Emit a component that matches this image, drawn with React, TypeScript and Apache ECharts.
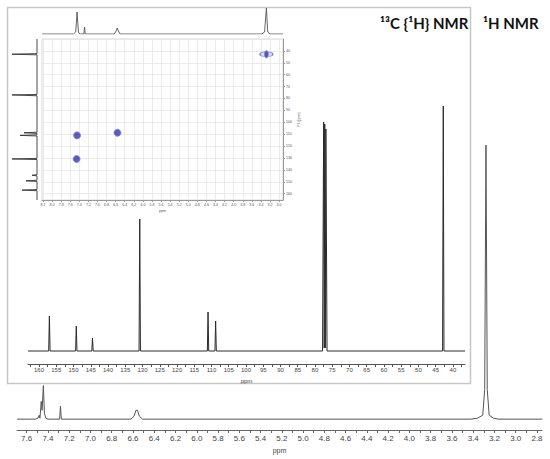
import React, { useEffect, useRef } from "react";
import * as echarts from "echarts";

// ---------- 13C {1H} spectrum: [ppm, intensity] ----------
const c13Spectrum: [number, number][] = [
  [163.2, 0], [157.2, 0], [157.0, 35], [156.8, 0],
  [149.4, 0], [149.2, 25], [149.0, 0],
  [144.7, 0], [144.5, 13], [144.3, 0],
  [131.0, 0], [130.8, 132], [130.6, 0],
  [111.2, 0], [111.0, 39], [110.8, 0],
  [109.0, 0], [108.8, 30], [108.6, 0],
  [77.8, 0], [77.48, 229], [77.32, 3], [77.16, 227], [77.0, 3], [76.84, 222], [76.5, 0],
  [43.0, 0], [42.8, 245], [42.6, 0], [36.5, 0],
];
const c13Labels = [160, 155, 150, 145, 140, 135, 130, 125, 120, 115, 110, 105, 100, 95, 90, 85, 80, 75, 70, 65, 60, 55, 50, 45, 40];
const c13Ticks = [
  162.5, 160, 157.5, 155, 152.5, 150, 147.5, 145, 142.5, 140, 137.5, 135, 132.5, 130, 127.5, 125,
  122.5, 120, 117.5, 115, 112.5, 110, 107.5, 105, 102.5, 100, 97.5, 95, 92.5, 90, 87.5, 85, 82.5,
  80, 77.5, 75, 72.5, 70, 67.5, 65, 62.5, 60, 57.5, 55, 52.5, 50, 47.5, 45, 42.5, 40, 37.5,
];

// ---------- 1H spectrum: [ppm, intensity] ----------
const h1Spectrum: [number, number][] = [
  [7.69, 0], [7.52, 0], [7.495, 1], [7.482, 4], [7.475, 1], [7.463, 18], [7.455, 9], [7.443, 34],
  [7.433, 6], [7.42, 1], [7.40, 0],
  [7.29, 0], [7.282, 13], [7.274, 0],
  [6.62, 0], [6.59, 3], [6.572, 9], [6.558, 9], [6.54, 3], [6.51, 0],
  [3.42, 0], [3.36, 1], [3.31, 4], [3.292, 30], [3.28, 278], [3.268, 30], [3.25, 4], [3.21, 1], [3.16, 0],
  [2.75, 0],
];
const h1Labels = [7.6, 7.4, 7.2, 7.0, 6.8, 6.6, 6.4, 6.2, 6.0, 5.8, 5.6, 5.4, 5.2, 5.0, 4.8, 4.6, 4.4, 4.2, 4.0, 3.8, 3.6, 3.4, 3.2, 3.0, 2.8];
const h1Ticks = [
  7.6, 7.5, 7.4, 7.3, 7.2, 7.1, 7.0, 6.9, 6.8, 6.7, 6.6, 6.5, 6.4, 6.3, 6.2, 6.1, 6.0, 5.9, 5.8, 5.7,
  5.6, 5.5, 5.4, 5.3, 5.2, 5.1, 5.0, 4.9, 4.8, 4.7, 4.6, 4.5, 4.4, 4.3, 4.2, 4.1, 4.0, 3.9, 3.8, 3.7,
  3.6, 3.5, 3.4, 3.3, 3.2, 3.1, 3.0, 2.9, 2.8,
];

// ---------- HSQC 2D ----------
const hsqcH = [7.45, 6.56, 7.46, 3.28];
const hsqcC = [111.0, 108.8, 130.8, 42.8];
const hsqcShape = ["dot", "dot", "dot", "ellipse"];
const hsqcXLabels = [8.2, 8.0, 7.8, 7.6, 7.4, 7.2, 7.0, 6.8, 6.6, 6.4, 6.2, 6.0, 5.8, 5.6, 5.4, 5.2, 5.0, 4.8, 4.6, 4.4, 4.2, 4.0, 3.8, 3.6, 3.4, 3.2, 3.0];

// top projection (1H): [ppm, intensity]
const h1Projection: [number, number][] = [
  [8.22, 0], [7.53, 0], [7.48, 2], [7.45, 22], [7.42, 2], [7.39, 0],
  [7.30, 0], [7.285, 7], [7.27, 0],
  [6.63, 0], [6.59, 3], [6.565, 6], [6.54, 3], [6.50, 0],
  [3.38, 0], [3.32, 2], [3.28, 26], [3.25, 2], [3.20, 0], [2.91, 0],
];
// left projection (13C): [ppm, intensity]
const c13Projection: [number, number][] = [
  [30, 0], [42.3, 0], [42.8, 25], [43.3, 0],
  [76.6, 0], [77.0, 25], [77.3, 25], [77.7, 0],
  [108.3, 0], [108.8, 13], [109.3, 0],
  [110.5, 0], [111.0, 17], [111.5, 0],
  [130.3, 0], [130.8, 25], [131.3, 0],
  [144.0, 0], [144.5, 5], [145.0, 0],
  [148.7, 0], [149.2, 11], [149.7, 0],
  [156.5, 0], [157.0, 15], [157.5, 0], [165.3, 0],
];

const LABEL_FONT = "Liberation Sans, Arial, sans-serif";
const TITLE_FONT = "Lato, 'Open Sans', sans-serif";

export default function App() {
  const ref = useRef<HTMLDivElement>(null);

  useEffect(() => {
    if (!ref.current) return;
    const chart = echarts.init(ref.current, undefined, { renderer: "svg" });

    const hidden = { show: false };
    const peaks = hsqcH.map((h, i) => [h, hsqcC[i]]);
    const ellipsePeaks = peaks.filter((_, i) => hsqcShape[i] === "ellipse");

    const option: any = {
      animation: false,
      backgroundColor: "#ffffff",
      grid: [
        { left: 28, top: 106, width: 437, height: 258 }, // 13C
        { left: 17, top: 145, width: 525, height: 289 }, // 1H
        { left: 42, top: 39, width: 241, height: 161, show: true, borderColor: "#d8d8d8", borderWidth: 1 }, // 2D
        { left: 42, top: 8, width: 241, height: 26 }, // top projection
        { left: 11, top: 39, width: 26, height: 161 }, // left projection
      ],
      xAxis: [
        {
          gridIndex: 0, type: "value", inverse: true, min: 36.5, max: 163.2,
          axisLine: { show: true, onZero: false, lineStyle: { color: "#555", width: 1 } },
          axisTick: { show: true, customValues: c13Ticks, length: 3, lineStyle: { color: "#555" } },
          axisLabel: { customValues: c13Labels, fontSize: 6, color: "#444", margin: 3, fontFamily: LABEL_FONT },
          splitLine: { show: false },
          name: "ppm", nameLocation: "middle", nameGap: 12,
          nameTextStyle: { fontSize: 6, color: "#444", fontFamily: LABEL_FONT },
        },
        {
          gridIndex: 1, type: "value", inverse: true, min: 2.753, max: 7.691,
          axisLine: { show: true, onZero: false, lineStyle: { color: "#666", width: 1 } },
          axisTick: { show: true, customValues: h1Ticks, length: 3, lineStyle: { color: "#666" } },
          axisLabel: {
            customValues: h1Labels, fontSize: 8, color: "#444", margin: 4, fontFamily: LABEL_FONT,
            formatter: (v: number) => v.toFixed(1),
          },
          splitLine: { show: false },
          name: "ppm", nameLocation: "middle", nameGap: 17,
          nameTextStyle: { fontSize: 7, color: "#444", fontFamily: LABEL_FONT },
        },
        {
          gridIndex: 2, type: "value", inverse: true, min: 2.914, max: 8.222,
          axisLine: { show: true, onZero: false, lineStyle: { color: "#999", width: 1 } },
          axisTick: { show: true, customValues: hsqcXLabels, length: 2, lineStyle: { color: "#999" } },
          axisLabel: {
            customValues: hsqcXLabels, fontSize: 3.6, color: "#555", margin: 3, fontFamily: LABEL_FONT,
            formatter: (v: number) => v.toFixed(1),
          },
          splitLine: { show: true, lineStyle: { color: "#e6e6e6", width: 0.8 } },
          name: "ppm", nameLocation: "middle", nameGap: 9,
          nameTextStyle: { fontSize: 3.6, color: "#555", fontFamily: LABEL_FONT },
        },
        { gridIndex: 3, type: "value", inverse: true, min: 2.914, max: 8.222, ...hidden },
        { gridIndex: 4, type: "value", inverse: true, min: 0, max: 26, ...hidden },
      ],
      yAxis: [
        { gridIndex: 0, type: "value", min: -13, max: 245, ...hidden },
        { gridIndex: 1, type: "value", min: -11, max: 278, ...hidden },
        {
          gridIndex: 2, type: "value", inverse: true, min: 30, max: 165.3, interval: 10, position: "right",
          axisLine: { show: true, onZero: false, lineStyle: { color: "#999", width: 1 } },
          axisTick: { show: true, length: 2, lineStyle: { color: "#999" } },
          axisLabel: { showMinLabel: false, showMaxLabel: false, fontSize: 3.6, color: "#555", margin: 3, fontFamily: LABEL_FONT },
          splitLine: { show: true, lineStyle: { color: "#e6e6e6", width: 0.8 } },
          name: "F1 (ppm)", nameLocation: "middle", nameGap: 14, nameRotate: 90,
          nameTextStyle: { fontSize: 3.6, color: "#555", fontFamily: LABEL_FONT },
        },
        { gridIndex: 3, type: "value", min: 0, max: 26, ...hidden },
        { gridIndex: 4, type: "value", inverse: true, min: 30, max: 165.3, ...hidden },
      ],
      series: [
        {
          type: "line", xAxisIndex: 0, yAxisIndex: 0, data: c13Spectrum, symbol: "none", silent: true,
          lineStyle: { color: "#2a2a2a", width: 1 },
        },
        {
          type: "line", xAxisIndex: 1, yAxisIndex: 1, data: h1Spectrum, symbol: "none", silent: true,
          lineStyle: { color: "#555", width: 1 },
        },
        {
          type: "line", xAxisIndex: 3, yAxisIndex: 3, data: h1Projection, symbol: "none", silent: true,
          lineStyle: { color: "#555", width: 0.9 },
        },
        {
          type: "line", xAxisIndex: 4, yAxisIndex: 4, data: c13Projection.map(([p, v]) => [v, p]),
          symbol: "none", silent: true, lineStyle: { color: "#333", width: 0.9 },
        },
        {
          type: "scatter", xAxisIndex: 2, yAxisIndex: 2, data: ellipsePeaks, silent: true,
          symbol: "circle", symbolSize: [13, 5],
          itemStyle: { color: "#d2d2f4", borderColor: "#5c5cd0", borderWidth: 0.8 },
        },
        {
          type: "scatter", xAxisIndex: 2, yAxisIndex: 2, data: peaks, silent: true,
          symbol: "circle",
          symbolSize: (_v: any, p: any) => (hsqcShape[p.dataIndex] === "ellipse" ? [4, 7] : 7),
          itemStyle: { color: "#3434a8", borderColor: "#8282dc", borderWidth: 1 },
        },
      ],
      graphic: [
        {
          type: "rect", silent: true,
          shape: { x: 7.5, y: 7.5, width: 463, height: 376 },
          style: { fill: "none", stroke: "#c6c6c6", lineWidth: 1.5 },
        },
        {
          type: "text", x: 380, y: 23, silent: true,
          style: { text: "¹³C {¹H} NMR", font: `bold 15px ${TITLE_FONT}`, fill: "#111", verticalAlign: "middle" },
        },
        {
          type: "text", x: 483, y: 23, silent: true,
          style: { text: "¹H NMR", font: `bold 15px ${TITLE_FONT}`, fill: "#111", verticalAlign: "middle" },
        },
      ],
    };

    chart.setOption(option);
    return () => chart.dispose();
  }, []);

  return (
    <div
      ref={ref}
      style={{ position: "fixed", left: 0, top: 0, width: 550, height: 459, background: "#fff" }}
    />
  );
}
